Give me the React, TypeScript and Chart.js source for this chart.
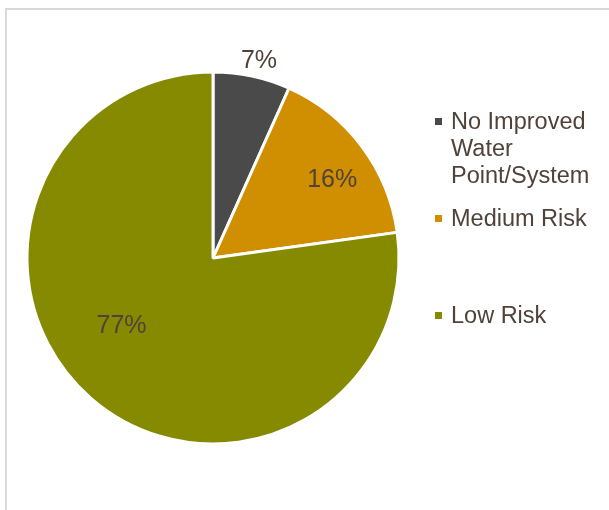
import React, { useEffect, useRef } from "react";
import { Chart, registerables } from "chart.js";

Chart.register(...registerables);

const categories = ["No Improved Water Point/System", "Medium Risk", "Low Risk"];
const legendLines = [["No Improved", "Water", "Point/System"], ["Medium Risk"], ["Low Risk"]];
const values = [6.7, 16.1, 77.2];
const valueLabels = ["7%", "16%", "77%"];
const colors = ["#4a4a4a", "#d08f00", "#858a00"];

// label placement: angle offset (deg) from slice middle, radius factor
const labelPlacement = [
  { dAngle: 1.1, rFactor: 1.087 },
  { dAngle: 3.8, rFactor: 0.765 },
  { dAngle: 12.2, rFactor: 0.614 },
];
// legend layout: first baseline y for each entry
const legendBaselines = [129, 226, 323];
const TEXT_COLOR = "#504239";
const FONT = "Arial, 'Liberation Sans', sans-serif";

const overlayPlugin = {
  id: "overlay",
  afterDraw(chart: any) {
    const ctx = chart.ctx;
    const meta = chart.getDatasetMeta(0);
    ctx.save();
    // data labels
    ctx.fillStyle = TEXT_COLOR;
    ctx.font = `25px ${FONT}`;
    ctx.textAlign = "center";
    ctx.textBaseline = "middle";
    meta.data.forEach((arc: any, i: number) => {
      const p = arc.getProps(["x", "y", "startAngle", "endAngle", "outerRadius"], true);
      const mid = (p.startAngle + p.endAngle) / 2 + (labelPlacement[i].dAngle * Math.PI) / 180;
      const r = p.outerRadius * labelPlacement[i].rFactor;
      ctx.fillText(valueLabels[i], p.x + Math.cos(mid) * r, p.y + Math.sin(mid) * r);
    });
    // legend
    ctx.font = `23.5px ${FONT}`;
    ctx.textAlign = "left";
    ctx.textBaseline = "alphabetic";
    legendLines.forEach((lines, i) => {
      const base = legendBaselines[i];
      ctx.fillStyle = colors[i];
      ctx.fillRect(435, base - 11, 7, 7);
      ctx.fillStyle = TEXT_COLOR;
      lines.forEach((ln, j) => {
        ctx.fillText(ln, 451, base + j * 27);
      });
    });
    ctx.restore();
  },
};

export default function App() {
  const ref = useRef<HTMLCanvasElement | null>(null);
  useEffect(() => {
    if (!ref.current) return;
    const chart = new Chart(ref.current, {
      type: "pie",
      data: {
        labels: categories,
        datasets: [
          {
            data: values,
            backgroundColor: colors,
            borderColor: "#ffffff",
            borderWidth: 3,
            hoverOffset: 0,
            offset: 0,
            radius: 186,
          } as any,
        ],
      },
      options: {
        responsive: false,
        animation: false,
        layout: { padding: { left: 28, right: 211, top: 73, bottom: 67 } },
        plugins: {
          legend: { display: false },
          tooltip: { enabled: false },
        },
      },
      plugins: [overlayPlugin],
    });
    return () => chart.destroy();
  }, []);

  return (
    <div
      style={{
        position: "fixed",
        left: 0,
        top: 0,
        width: 609,
        height: 510,
        overflow: "hidden",
        background: "#ffffff",
      }}
    >
      <div
        style={{
          position: "absolute",
          left: 5,
          top: 8,
          width: 700,
          height: 600,
          border: "2px solid #d9d9d9",
          boxSizing: "border-box",
        }}
      />
      <canvas
        ref={ref}
        width={609}
        height={510}
        style={{ position: "absolute", left: 0, top: 0, width: 609, height: 510 }}
      />
    </div>
  );
}
